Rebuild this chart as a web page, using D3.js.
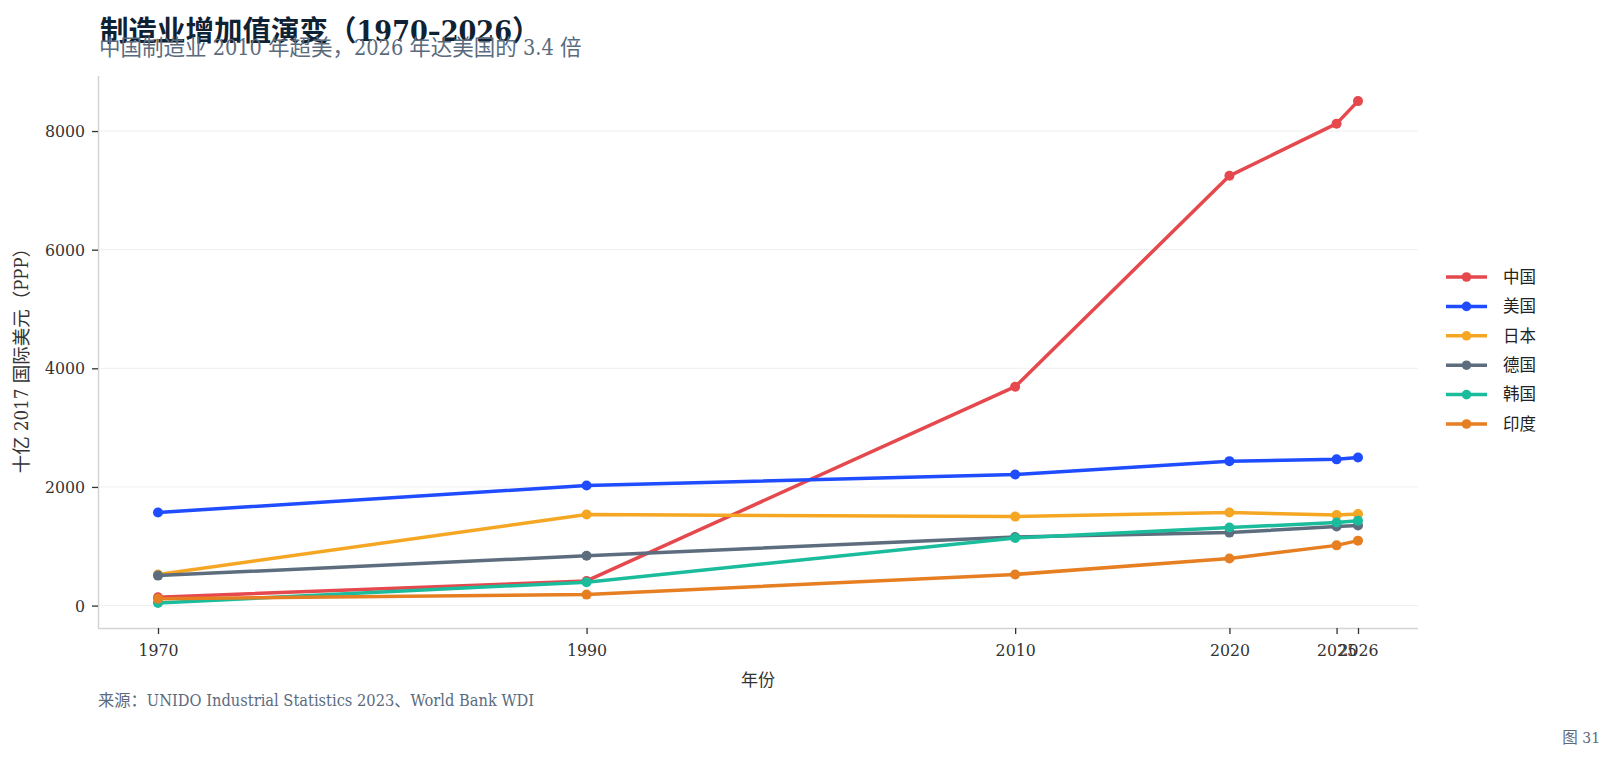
<!DOCTYPE html>
<html>
<head>
<meta charset="utf-8">
<script src="https://cdn.jsdelivr.net/npm/d3@7/dist/d3.min.js"></script>
<style>
  html, body { margin: 0; padding: 0; background: #fff; }
  svg { display: block; }
  .serif { font-family: "DejaVu Serif Condensed", "DejaVu Serif", "Noto Sans CJK SC", serif; font-stretch: condensed; }
  .sans { font-family: "Noto Sans CJK SC", "Noto Sans", sans-serif; }
</style>
</head>
<body>
<svg id="chart" width="1614" height="763"></svg>
<script>
const years = [1970, 1990, 2010, 2020, 2025, 2026];
const seriesNames = ["中国", "美国", "日本", "德国", "韩国", "印度"];
const chinaValues   = [140, 415, 3690, 7245, 8125, 8505];
const usaValues     = [1570, 2025, 2210, 2435, 2465, 2495];
const japanValues   = [525, 1535, 1500, 1570, 1525, 1545];
const germanyValues = [505, 840, 1155, 1230, 1335, 1350];
const koreaValues   = [45, 395, 1140, 1315, 1400, 1430];
const indiaValues   = [115, 185, 525, 795, 1015, 1095];
const seriesColors = ["#e5484d", "#1f4cff", "#f5a623", "#5d6d7e", "#1abc9c", "#e67e22"];
const yTicks = [0, 2000, 4000, 6000, 8000];
const xTicks = years;

const titleText = "制造业增加值演变（1970–2026）";
const subtitleText = "中国制造业 2010 年超美，2026 年达美国的 3.4 倍";
const yLabelText = "十亿 2017 国际美元（PPP）";
const xLabelText = "年份";
const sourceText = "来源：UNIDO Industrial Statistics 2023、World Bank WDI";
const figText = "图 31";

const allValues = [chinaValues, usaValues, japanValues, germanyValues, koreaValues, indiaValues];
const series = seriesNames.map((name, i) => ({
  name, color: seriesColors[i],
  points: years.map((y, j) => ({ year: y, value: allValues[i][j] }))
}));

const svg = d3.select("#chart");
const plot = { left: 98, right: 1418, top: 76, bottom: 628 };

const xExt = d3.extent(years);
const xPad = (xExt[1] - xExt[0]) * 0.05;
const x = d3.scaleLinear().domain([xExt[0] - xPad, xExt[1] + xPad]).range([plot.left, plot.right]);

const flat = allValues.flat();
const yExt = d3.extent(flat);
const yPad = (yExt[1] - yExt[0]) * 0.05;
const y = d3.scaleLinear().domain([yExt[0] - yPad, yExt[1] + yPad]).range([plot.bottom, plot.top]);

// gridlines
svg.append("g").selectAll("line").data(yTicks).join("line")
  .attr("x1", plot.left).attr("x2", plot.right)
  .attr("y1", d => y(d)).attr("y2", d => y(d))
  .attr("stroke", "#efefef").attr("stroke-width", 1);

// axes
const xAxis = svg.append("g").attr("transform", `translate(0,${plot.bottom})`)
  .call(d3.axisBottom(x).tickValues(xTicks).tickFormat(d3.format("d")).tickSize(6).tickPadding(10));
const yAxis = svg.append("g").attr("transform", `translate(${plot.left},0)`)
  .call(d3.axisLeft(y).tickValues(yTicks).tickFormat(d3.format("d")).tickSize(6).tickPadding(7));

[xAxis, yAxis].forEach(ax => {
  ax.select(".domain").attr("stroke", "#d4d4d4").attr("stroke-width", 1.5);
  ax.selectAll(".tick line").attr("stroke", "#333").attr("stroke-width", 1.3);
  ax.selectAll(".tick text").attr("class", "serif").attr("fill", "#333").style("font-size", "17.5px");
});
yAxis.select(".domain").attr("d", `M0.5,${plot.top}V${plot.bottom}`);
xAxis.select(".domain").attr("d", `M${plot.left},0.5H${plot.right}`);

// lines & points
const line = d3.line().x(d => x(d.year)).y(d => y(d.value));
series.forEach(s => {
  const g = svg.append("g");
  g.append("path").datum(s.points).attr("d", line)
    .attr("fill", "none").attr("stroke", s.color).attr("stroke-width", 3.5)
    .attr("stroke-linejoin", "round").attr("stroke-linecap", "round");
  g.selectAll("circle").data(s.points).join("circle")
    .attr("cx", d => x(d.year)).attr("cy", d => y(d.value)).attr("r", 5)
    .attr("fill", s.color);
});

// legend
const legend = svg.append("g");
series.forEach((s, i) => {
  const ly = 277 + i * 29.4;
  legend.append("line").attr("x1", 1446).attr("x2", 1487).attr("y1", ly).attr("y2", ly)
    .attr("stroke", s.color).attr("stroke-width", 3.5);
  legend.append("circle").attr("cx", 1466.5).attr("cy", ly).attr("r", 4.8).attr("fill", s.color);
  legend.append("text").attr("class", "sans").attr("x", 1503).attr("y", ly)
    .attr("dy", "0.35em").attr("fill", "#222").style("font-size", "16.5px").text(s.name);
});

// titles
svg.append("text").attr("class", "serif").attr("x", 100).attr("y", 41)
  .attr("fill", "#0f2233").style("font-size", "28.5px").style("font-weight", "700").text(titleText);
svg.append("text").attr("class", "serif").attr("x", 99).attr("y", 55)
  .attr("fill", "#5b6b7e").style("font-size", "21.5px").text(subtitleText);

// axis labels
svg.append("text").attr("class", "serif")
  .attr("transform", `translate(28,${(plot.top + plot.bottom) / 2 + 4}) rotate(-90)`)
  .attr("text-anchor", "middle").attr("fill", "#333").style("font-size", "18.5px").text(yLabelText);
svg.append("text").attr("class", "serif").attr("x", (plot.left + plot.right) / 2).attr("y", 686)
  .attr("text-anchor", "middle").attr("fill", "#333").style("font-size", "17px").text(xLabelText);

// source & figure number
svg.append("text").attr("class", "serif").attr("x", 98).attr("y", 706)
  .attr("fill", "#5b6b7e").style("font-size", "16.3px").text(sourceText);
svg.append("text").attr("class", "serif").attr("x", 1600).attr("y", 743)
  .attr("text-anchor", "end").attr("fill", "#5b6b7e").style("font-size", "15.5px").text(figText);
</script>
</body>
</html>
